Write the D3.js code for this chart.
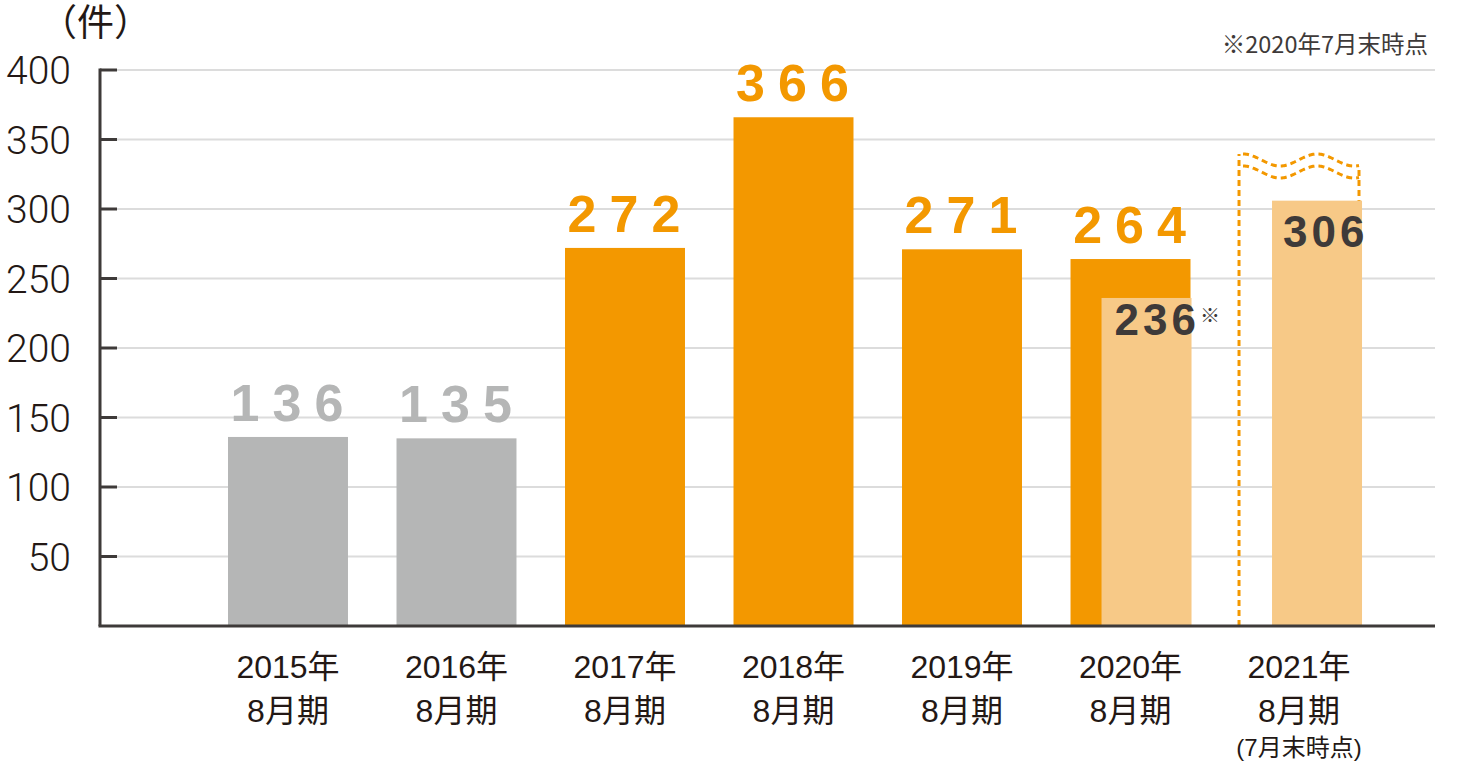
<!DOCTYPE html>
<html>
<head>
<meta charset="utf-8">
<script src="https://cdn.jsdelivr.net/npm/d3@7"></script>
<style>
  html, body { margin: 0; padding: 0; background: #fff; }
  svg { display: block; }
</style>
</head>
<body>
<svg id="chart" width="1459" height="763"></svg>
<script>
// ---- data ----
const years = ["2015年", "2016年", "2017年", "2018年", "2019年", "2020年", "2021年"];
const periodLabel = "8月期";
const subNotes = ["", "", "", "", "", "", "(7月末時点)"];
const fullYearValues = [136, 135, 272, 366, 271, 264, null];
const interimValues = [null, null, null, null, null, 236, 306];
const interimMarks = ["", "", "", "", "", "※", ""];
const yTicks = [50, 100, 150, 200, 250, 300, 350, 400];
const unitLabel = "（件）";
const footNote = "※2020年7月末時点";

// ---- styles ----
const ORANGE = "#f39800", GRAY = "#b5b6b6", LIGHT = "#f7c987";
const DARK = "#3e3a39", TEXT = "#231815", GRID = "#dcdcdc";
const cjk = "'Liberation Sans', Arial, 'Noto Sans CJK JP', sans-serif";

const svg = d3.select("#chart");

const y = d3.scaleLinear().domain([0, 400]).range([626, 70]);
const x = d3.scaleBand().domain(years).range([228, 1359])
  .paddingInner(0.288).paddingOuter(0);

// gridlines
svg.append("g").selectAll("line").data(yTicks).join("line")
  .attr("x1", 100).attr("x2", 1435)
  .attr("y1", d => y(d)).attr("y2", d => y(d))
  .attr("stroke", GRID).attr("stroke-width", 2);

// y tick labels
svg.append("g").selectAll("text").data(yTicks).join("text")
  .attr("x", 71).attr("y", d => y(d) + 14)
  .attr("text-anchor", "end")
  .attr("font-family", "Roboto, 'Liberation Sans', sans-serif")
  .attr("font-weight", 300)
  .attr("font-size", 39)
  .attr("fill", TEXT)
  .text(d => d);

// y tick marks
svg.append("g").selectAll("line").data(yTicks).join("line")
  .attr("x1", 100).attr("x2", 117)
  .attr("y1", d => y(d)).attr("y2", d => y(d))
  .attr("stroke", DARK).attr("stroke-width", 3);

// unit label
svg.append("text").attr("x", 40).attr("y", 36)
  .attr("font-family", cjk).attr("font-size", 37).attr("fill", TEXT)
  .text(unitLabel);

// footnote
svg.append("text").attr("x", 1428).attr("y", 53)
  .attr("text-anchor", "end")
  .attr("font-family", "'Noto Sans CJK JP', sans-serif").attr("font-size", 23.5).attr("fill", DARK)
  .text(footNote);

// dashed "forecast" frame for bars without full-year value
const dashG = svg.append("g");
years.forEach((yr, i) => {
  if (fullYearValues[i] !== null) return;
  const bx = x(yr), bw = x.bandwidth();
  const x0 = bx + 4, x1 = bx + bw;
  const wave = (off) => {
    const pts = d3.range(x0, x1 + 0.5, 1).map(px => [px, 160 + off - 6 * Math.cos(2 * Math.PI * (px - x0) / 74)]);
    return d3.line().curve(d3.curveBasis)(pts);
  };
  const st = sel => sel.attr("fill", "none").attr("stroke", ORANGE)
    .attr("stroke-width", 3).attr("stroke-dasharray", "6,4");
  dashG.append("line").attr("x1", bx).attr("x2", bx).attr("y1", y(0)).attr("y2", 154).call(st);
  dashG.append("line").attr("x1", bx + bw).attr("x2", bx + bw).attr("y1", y(0)).attr("y2", 168).call(st);
  dashG.append("path").attr("d", wave(0)).call(st);
  dashG.append("path").attr("d", wave(12)).call(st);
});

// full-year bars
const fullIdx = d3.range(years.length).filter(i => fullYearValues[i] !== null);
svg.append("g").selectAll("rect").data(fullIdx).join("rect")
  .attr("x", i => x(years[i]))
  .attr("width", x.bandwidth())
  .attr("y", i => y(fullYearValues[i]))
  .attr("height", i => y(0) - y(fullYearValues[i]))
  .attr("fill", i => i < 2 ? GRAY : ORANGE);

// interim bars
const intIdx = d3.range(years.length).filter(i => interimValues[i] !== null);
svg.append("g").selectAll("rect").data(intIdx).join("rect")
  .attr("x", i => x(years[i]) + 31 + (fullYearValues[i] === null ? 2 : 0))
  .attr("width", 90)
  .attr("y", i => y(interimValues[i]))
  .attr("height", i => y(0) - y(interimValues[i]))
  .attr("fill", LIGHT);

// full-year value labels
const LS = 13;
svg.append("g").selectAll("text").data(fullIdx).join("text")
  .attr("x", i => x(years[i]) + x.bandwidth() / 2 + LS / 2 - 1)
  .attr("y", i => y(fullYearValues[i]) - 16)
  .attr("text-anchor", "middle")
  .attr("font-family", "'Liberation Sans', Arial, sans-serif")
  .attr("font-weight", "bold")
  .attr("font-size", 52)
  .attr("letter-spacing", LS)
  .attr("fill", i => i < 2 ? GRAY : ORANGE)
  .text(i => fullYearValues[i]);

// interim value labels
const intLabels = svg.append("g").selectAll("text").data(intIdx).join("text")
  .attr("x", i => x(years[i]) + 44)
  .attr("y", i => y(interimValues[i]) + (fullYearValues[i] === null ? 46 : 37))
  .attr("font-family", "'Liberation Sans', Arial, sans-serif")
  .attr("font-weight", "bold")
  .attr("font-size", 44)
  .attr("letter-spacing", 4)
  .attr("fill", DARK);
intLabels.append("tspan").text(i => interimValues[i]);
intLabels.append("tspan")
  .attr("font-family", "'Noto Sans CJK JP', sans-serif")
  .attr("font-weight", "normal")
  .attr("font-size", 20)
  .attr("letter-spacing", 0)
  .attr("dy", -12)
  .text(i => interimMarks[i]);

// axes lines
svg.append("line").attr("x1", 100).attr("x2", 100).attr("y1", y(400) - 1.5).attr("y2", y(0))
  .attr("stroke", DARK).attr("stroke-width", 3);
svg.append("line").attr("x1", 98.5).attr("x2", 1435).attr("y1", y(0)).attr("y2", y(0))
  .attr("stroke", DARK).attr("stroke-width", 3);

// x labels
const xl = svg.append("g").selectAll("g").data(years).join("g")
  .attr("transform", d => `translate(${x(d) + x.bandwidth() / 2},0)`);
xl.append("text").attr("y", 678).attr("text-anchor", "middle")
  .attr("font-family", cjk).attr("font-size", 32).attr("fill", TEXT)
  .text(d => d);
xl.append("text").attr("y", 722).attr("text-anchor", "middle")
  .attr("font-family", cjk).attr("font-size", 32).attr("fill", TEXT)
  .text(periodLabel);
xl.append("text").attr("y", 756).attr("text-anchor", "middle")
  .attr("font-family", cjk).attr("font-size", 24).attr("fill", TEXT)
  .text((d, i) => subNotes[i]);
</script>
</body>
</html>
